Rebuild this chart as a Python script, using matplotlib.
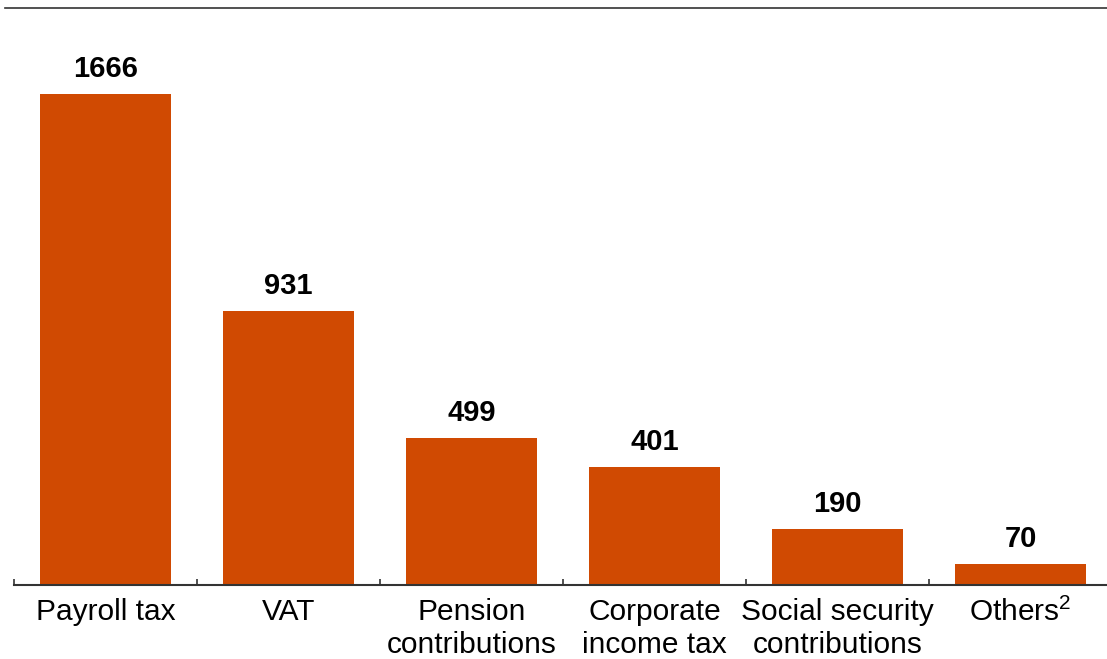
import numpy as np
import matplotlib
matplotlib.use("Agg")
import matplotlib.pyplot as plt
from matplotlib.lines import Line2D

plt.rcParams['font.family'] = ['Liberation Sans', 'DejaVu Sans']
plt.rcParams['mathtext.fontset'] = 'custom'
plt.rcParams['mathtext.rm'] = 'Liberation Sans'
plt.rcParams['mathtext.default'] = 'regular'

# Tax revenue by type
categories = ['Payroll tax', 'VAT', 'Pension\ncontributions', 'Corporate\nincome tax',
              'Social security\ncontributions', 'Others$^{2}$']
values = [1666, 931, 499, 401, 190, 70]

bar_color = '#D04A02'
axis_color = '#333333'

fig = plt.figure(figsize=(11.07, 6.59), dpi=100)
ax = fig.add_axes([14 / 1107, 74 / 659, 1098 / 1107, 577 / 659])

x = np.arange(len(categories))
bars = ax.bar(x, values, width=0.72, color=bar_color, zorder=2)

for rect, v in zip(bars, values):
    ax.annotate(str(v), (rect.get_x() + rect.get_width() / 2, v),
                xytext=(0, 8), textcoords='offset points',
                ha='center', va='bottom', fontsize=21, fontweight='bold', color='black')

ax.set_xlim(-0.5, len(categories) - 0.5)
ax.set_ylim(0, 1958)

# category labels at bar centres, separator ticks between categories
ax.set_xticks(x)
ax.set_xticklabels(categories, fontsize=21.5, color='black', linespacing=1.25)
ax.tick_params(axis='x', which='major', length=0, pad=9)
ax.set_xticks(np.arange(-0.5, len(categories) + 0.5, 1), minor=True)
ax.tick_params(axis='x', which='minor', direction='in', length=4, width=1.2, color=axis_color)

ax.set_yticks([])
for side in ('left', 'right', 'top'):
    ax.spines[side].set_visible(False)
ax.spines['bottom'].set_color(axis_color)
ax.spines['bottom'].set_linewidth(1.5)
ax.spines['bottom'].set_zorder(3)

# rule across the top
fig.add_artist(Line2D([5 / 1107, 1.0], [1 - 8 / 659, 1 - 8 / 659],
                      color=axis_color, linewidth=1.2, transform=fig.transFigure))

fig.savefig('out.png', dpi=100)
